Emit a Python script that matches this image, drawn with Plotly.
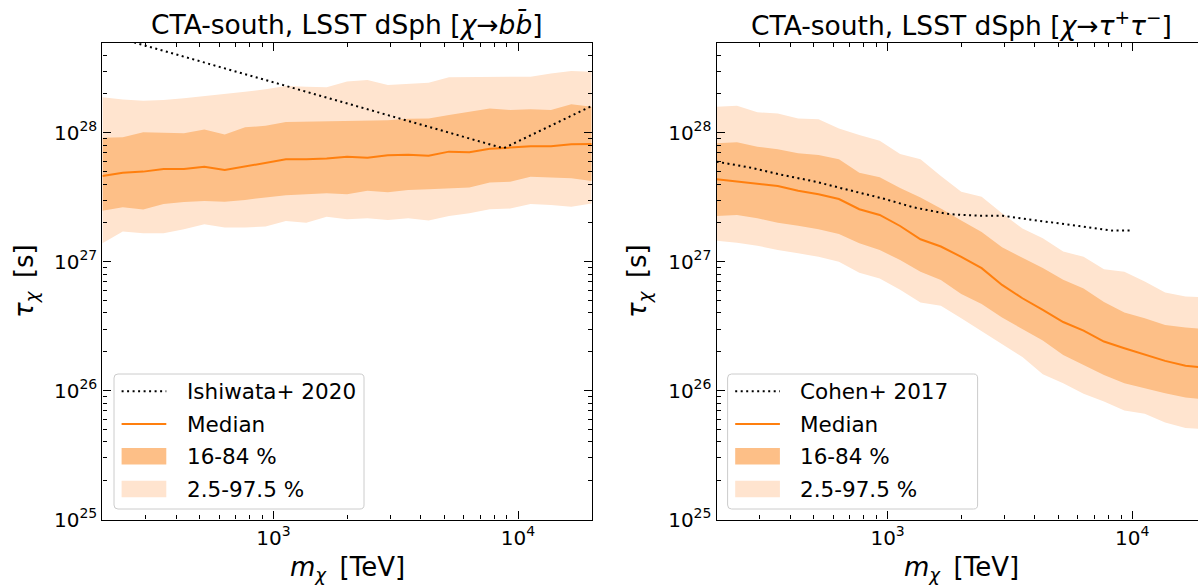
import math
import plotly.graph_objects as go

W, H = 1198, 587

# ---------------- data ----------------
mass = [200, 242.3, 293.6, 355.7, 430.9, 522.1, 632.5, 766.3, 928.4, 1124.8,
        1362.7, 1651.0, 2000, 2423, 2936, 3557, 4309, 5221, 6325, 7663,
        9284, 11248, 13627, 16510, 20000]

# chi -> b bbar
median_bb = [4.61e27, 4.90e27, 4.99e27, 5.23e27, 5.23e27, 5.45e27, 5.14e27, 5.45e27,
             5.85e27, 6.21e27, 6.21e27, 6.32e27, 6.52e27, 6.40e27, 6.67e27, 6.75e27,
             6.63e27, 7.13e27, 7.04e27, 7.52e27, 7.66e27, 7.84e27, 7.84e27, 8.13e27, 8.17e27]
inner_hi_bb = [9.15e27, 9.2e27, 1.01e28, 1.0e28, 9.9e27, 1.06e28, 9.7e27, 1.10e28,
               1.13e28, 1.21e28, 1.22e28, 1.22e28, 1.23e28, 1.24e28, 1.25e28, 1.28e28,
               1.29e28, 1.37e28, 1.45e28, 1.54e28, 1.50e28, 1.52e28, 1.50e28, 1.66e28, 1.59e28]
inner_lo_bb = [2.48e27, 2.64e27, 2.54e27, 2.80e27, 2.90e27, 2.95e27, 2.92e27, 3.01e27,
               3.15e27, 3.27e27, 3.33e27, 3.39e27, 3.33e27, 3.55e27, 3.45e27, 3.59e27,
               3.64e27, 3.68e27, 3.75e27, 4.10e27, 4.17e27, 4.56e27, 4.52e27, 4.43e27, 4.22e27]
outer_hi_bb = [1.88e28, 1.81e28, 1.77e28, 1.79e28, 1.85e28, 1.92e28, 1.98e28, 2.08e28,
               2.17e28, 2.30e28, 2.27e28, 2.25e28, 2.49e28, 2.56e28, 2.34e28, 2.39e28,
               2.44e28, 2.69e28, 2.69e28, 2.69e28, 2.69e28, 2.72e28, 2.88e28, 3.01e28, 2.97e28]
outer_lo_bb = [1.39e27, 1.71e27, 1.66e27, 1.66e27, 1.78e27, 1.95e27, 1.84e27, 1.84e27,
               1.87e27, 2.07e27, 2.00e27, 2.23e27, 2.13e27, 2.17e27, 2.10e27, 2.17e27,
               2.08e27, 2.26e27, 2.37e27, 2.55e27, 2.58e27, 2.80e27, 2.75e27, 2.67e27, 2.83e27]
ishiwata_x = [200, 8730, 20000]
ishiwata_y = [5.9e28, 7.57e27, 1.61e28]

# chi -> tau+ tau-
median_tt = [4.36e27, 4.17e27, 4.0e27, 3.86e27, 3.55e27, 3.33e27, 3.06e27, 2.55e27,
             2.30e27, 1.89e27, 1.49e27, 1.31e27, 1.09e27, 8.9e26, 6.6e26, 5.2e26,
             4.23e26, 3.40e26, 2.92e26, 2.40e26, 2.13e26, 1.89e26, 1.70e26, 1.56e26, 1.50e26]
inner_hi_tt = [8.28e27, 8.43e27, 7.79e27, 7.43e27, 6.92e27, 6.71e27, 6.22e27, 4.90e27,
               4.51e27, 3.72e27, 3.15e27, 2.58e27, 2.08e27, 1.70e27, 1.29e27, 1.08e27,
               8.93e26, 7.24e26, 6.18e26, 4.87e26, 4.03e26, 3.64e26, 3.23e26, 3.08e26, 3.0e26]
inner_lo_tt = [2.26e27, 2.30e27, 2.17e27, 2.0e27, 1.90e27, 1.78e27, 1.64e27, 1.39e27,
               1.23e27, 1.03e27, 8.36e26, 7.21e26, 5.62e26, 4.70e26, 3.68e26, 2.99e26,
               2.44e26, 1.89e26, 1.58e26, 1.32e26, 1.14e26, 1.04e26, 9.55e25, 8.83e25, 8.5e25]
outer_hi_tt = [1.59e28, 1.62e28, 1.44e28, 1.41e28, 1.29e28, 1.27e28, 1.08e28, 9.6e27,
               8.67e27, 6.84e27, 6.22e27, 4.61e27, 3.49e27, 3.19e27, 2.37e27, 1.81e27,
               1.52e27, 1.20e27, 1.09e27, 8.73e26, 8.36e26, 7.0e26, 5.75e26, 5.36e26, 5.3e26]
outer_lo_tt = [1.45e27, 1.40e27, 1.33e27, 1.23e27, 1.16e27, 1.09e27, 1.0e27, 8.2e26,
               7.4e26, 6.04e26, 4.81e26, 4.54e26, 3.64e26, 2.9e26, 2.30e26, 1.82e26,
               1.34e26, 1.14e26, 9.43e25, 8.22e25, 7.0e25, 6.6e25, 5.65e25, 5.12e25, 5.0e25]
cohen_x = [200, 271, 372, 507, 690, 950, 1273, 1741, 2033, 2376, 2957, 3459, 4443, 6070, 8300, 10000]
cohen_y = [5.96e27, 5.39e27, 4.70e27, 4.17e27, 3.60e27, 3.10e27, 2.64e27, 2.35e27,
           2.30e27, 2.27e27, 2.27e27, 2.17e27, 2.04e27, 1.89e27, 1.74e27, 1.74e27]

x_tickvals = [1e3, 1e4]
x_ticktext = ["10<sup>3</sup>", "10<sup>4</sup>"]
y_tickvals = [1e25, 1e26, 1e27, 1e28]
y_ticktext = ["10<sup>25</sup>", "10<sup>26</sup>", "10<sup>27</sup>", "10<sup>28</sup>"]
x_minor = [float(m) * 10.0 ** e for e in (2, 3, 4) for m in range(2, 10)]
y_minor = [float(m) * 10.0 ** e for e in (25, 26, 27, 28) for m in range(2, 10)]

titles = ["CTA-south, LSST dSph [<i>χ</i>→<i>b</i><i>b\u0304</i>]",
          "CTA-south, LSST dSph [<i>χ</i>→<i>τ</i><sup>+</sup><i>τ</i><sup>−</sup>]"]
x_label = "<i>m</i><sub><i>χ</i></sub>\u2009 [TeV]"
y_label = "<i>τ</i><sub><i>χ</i></sub>\u2009 [s]"
ref_names = ["Ishiwata+ 2020", "Cohen+ 2017"]
legend_labels = ["Median", "16-84 %", "2.5-97.5 %"]

# ---------------- style ----------------
FONT = "DejaVu Sans"
C_MED = "#ff7f0e"
C_IN = "#fdbf87"
C_OUT = "#ffe4cf"

fig = go.Figure()

panels = [
    dict(xa="x", ya="y", med=median_bb, ih=inner_hi_bb, il=inner_lo_bb,
         oh=outer_hi_bb, ol=outer_lo_bb, rx=ishiwata_x, ry=ishiwata_y),
    dict(xa="x2", ya="y2", med=median_tt, ih=inner_hi_tt, il=inner_lo_tt,
         oh=outer_hi_tt, ol=outer_lo_tt, rx=cohen_x, ry=cohen_y),
]
for p in panels:
    common = dict(xaxis=p["xa"], yaxis=p["ya"], showlegend=False, hoverinfo="skip")
    fig.add_trace(go.Scatter(x=mass, y=p["ol"], mode="lines", line=dict(width=0), **common))
    fig.add_trace(go.Scatter(x=mass, y=p["oh"], mode="lines", line=dict(width=0),
                             fill="tonexty", fillcolor=C_OUT, **common))
    fig.add_trace(go.Scatter(x=mass, y=p["il"], mode="lines", line=dict(width=0), **common))
    fig.add_trace(go.Scatter(x=mass, y=p["ih"], mode="lines", line=dict(width=0),
                             fill="tonexty", fillcolor=C_IN, **common))
    fig.add_trace(go.Scatter(x=mass, y=p["med"], mode="lines",
                             line=dict(width=2, color=C_MED), **common))
    fig.add_trace(go.Scatter(x=p["rx"], y=p["ry"], mode="lines",
                             line=dict(width=2, color="black", dash="2px,3.5px"), **common))

def px_x(x):
    return x / W

def px_y(y):
    return 1 - y / H

left_px = (102.4, 591.7)
right_px0 = 716.6
top_px, bot_px = 42.7, 519.5
decade_px = (left_px[1] - left_px[0]) / 2.0
x_lo = math.log10(200)
right_end = x_lo + (W - right_px0) / decade_px

axis_common = dict(
    type="log", showgrid=False, zeroline=False, showline=True, linecolor="black",
    linewidth=1.3, ticks="inside", ticklen=8, tickwidth=1.3, tickcolor="black",
    tickfont=dict(family=FONT, size=20, color="black"), tickmode="array",
    automargin=False,
)
minor_x = dict(tickmode="array", tickvals=x_minor, ticks="inside", ticklen=4,
               tickwidth=1, tickcolor="black", showgrid=False)
minor_y = dict(tickmode="array", tickvals=y_minor, ticks="inside", ticklen=4,
               tickwidth=1, tickcolor="black", showgrid=False)

ydom = [px_y(bot_px), px_y(top_px)]
fig.update_layout(
    template="none",
    width=W, height=H, autosize=False,
    margin=dict(l=0, r=0, t=0, b=0, pad=0, autoexpand=False),
    paper_bgcolor="white", plot_bgcolor="white",
    font=dict(family=FONT, color="black"),
    showlegend=False,
    xaxis=dict(domain=[px_x(left_px[0]), px_x(left_px[1])], anchor="y",
               range=[x_lo, math.log10(20000)], tickvals=x_tickvals, ticktext=x_ticktext,
               minor=minor_x, mirror="ticks", **axis_common),
    yaxis=dict(domain=ydom, anchor="x", range=[25, 28.698],
               tickvals=y_tickvals, ticktext=y_ticktext, minor=minor_y,
               mirror="ticks", **axis_common),
    xaxis2=dict(domain=[px_x(right_px0), 1.0], anchor="y2",
                range=[x_lo, right_end], tickvals=x_tickvals, ticktext=x_ticktext,
                minor=minor_x, mirror="ticks", **axis_common),
    yaxis2=dict(domain=ydom, anchor="x2", range=[25, 28.698],
                tickvals=y_tickvals, ticktext=y_ticktext, minor=minor_y,
                mirror=False, **axis_common),
)

annotations = []
shapes = []
centers = [(left_px[0] + left_px[1]) / 2, (right_px0 + right_px0 + 2 * decade_px) / 2]
ylabel_x = [25, 638]
for i, cx in enumerate(centers):
    annotations.append(dict(x=px_x(cx), y=px_y(24), xref="paper", yref="paper",
                            text=titles[i], showarrow=False, xanchor="center",
                            yanchor="middle", font=dict(family=FONT, size=26.5, color="black")))
    annotations.append(dict(x=px_x(cx), y=px_y(568), xref="paper", yref="paper",
                            text=x_label, showarrow=False,
                            xanchor="center", yanchor="middle",
                            font=dict(family=FONT, size=26, color="black")))
    annotations.append(dict(x=px_x(ylabel_x[i]), y=px_y(281), xref="paper", yref="paper",
                            text=y_label, showarrow=False,
                            textangle=-90, xanchor="center", yanchor="middle",
                            font=dict(family=FONT, size=26, color="black")))


def rounded_rect(x0, y0, x1, y1, r):
    def P(x, y):
        return f"{px_x(x):.6f},{px_y(y):.6f}"
    d = (f"M{P(x0 + r, y0)} L{P(x1 - r, y0)} Q{P(x1, y0)} {P(x1, y0 + r)} "
         f"L{P(x1, y1 - r)} Q{P(x1, y1)} {P(x1 - r, y1)} L{P(x0 + r, y1)} "
         f"Q{P(x0, y1)} {P(x0, y1 - r)} L{P(x0, y0 + r)} Q{P(x0, y0)} {P(x0 + r, y0)} Z")
    return d

legend_x0 = [114, 727.6]
rows = [391.3, 424, 456.3, 489]
for i, lx in enumerate(legend_x0):
    shapes.append(dict(type="path", xref="paper", yref="paper",
                       path=rounded_rect(lx, 374, lx + 250, 509, 4),
                       fillcolor="rgba(255,255,255,0.8)", line=dict(color="#cccccc", width=1)))
    sx0, sx1, tx = lx + 7.6, lx + 52.3, lx + 70.6
    shapes.append(dict(type="line", xref="paper", yref="paper",
                       x0=px_x(sx0), x1=px_x(sx1), y0=px_y(rows[0]), y1=px_y(rows[0]),
                       line=dict(color="black", width=2, dash="2px,3.5px")))
    shapes.append(dict(type="line", xref="paper", yref="paper",
                       x0=px_x(sx0), x1=px_x(sx1), y0=px_y(rows[1]), y1=px_y(rows[1]),
                       line=dict(color=C_MED, width=2)))
    for r, col in ((rows[2], C_IN), (rows[3], C_OUT)):
        shapes.append(dict(type="rect", xref="paper", yref="paper",
                           x0=px_x(sx0), x1=px_x(sx1), y0=px_y(r + 8.3), y1=px_y(r - 8.3),
                           fillcolor=col, line=dict(width=0)))
    texts = [ref_names[i]] + legend_labels
    for r, t in zip(rows, texts):
        annotations.append(dict(x=px_x(tx), y=px_y(r), xref="paper", yref="paper", text=t,
                                showarrow=False, xanchor="left", yanchor="middle",
                                font=dict(family=FONT, size=21.5, color="black")))

fig.update_layout(annotations=annotations, shapes=shapes)
fig.write_html("out.html")
